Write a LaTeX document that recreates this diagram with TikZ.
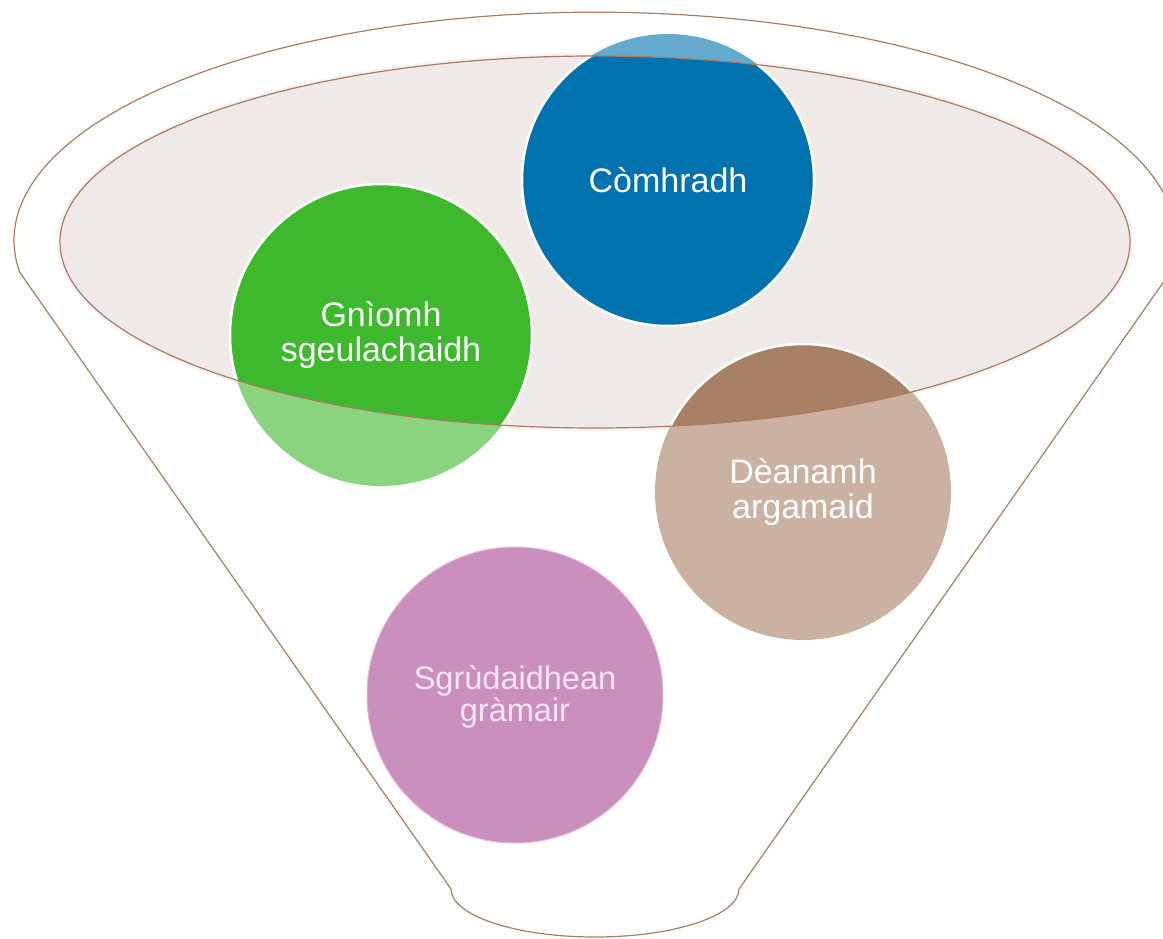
\documentclass[tikz,border=0pt]{standalone}
\usepackage{fontspec}
\setmainfont{Liberation Sans}
\definecolor{funnelline}{RGB}{170,125,98}
\definecolor{bowlfill}{RGB}{239,234,231}
\definecolor{bowlglow}{RGB}{246,243,241}
\definecolor{bluedark}{RGB}{0,115,174}
\definecolor{bluelight}{RGB}{100,170,206}
\definecolor{greendark}{RGB}{62,184,44}
\definecolor{greenlight}{RGB}{139,212,127}
\definecolor{browndark}{RGB}{168,128,102}
\definecolor{brownlight}{RGB}{203,177,161}
\definecolor{pinkfill}{RGB}{203,143,189}
\definecolor{pinkedge}{RGB}{225,185,215}
\definecolor{pinktext}{RGB}{248,228,242}
\begin{document}
\begin{tikzpicture}[x=1pt,y=-1pt,
  outline/.style={draw=funnelline, line width=1.2pt},
  darkdisc/.style={line width=2.5pt, draw=white},
  circtext/.style={circle, inner sep=0pt, minimum size=290pt, align=center, text=white,
    font=\fontsize{34}{35}\selectfont},
  pinktextstyle/.style={circtext, text=pinktext, font=\fontsize{32.5}{29}\selectfont}]
\useasboundingbox (0,0) rectangle (1163,939);
\begin{scope}
\clip (0,0) rectangle (1163,939);
% funnel outline
\coordinate (lc) at (20,272.7);
\coordinate (rc) at (1170,272.7);
\coordinate (bl) at (451,889);
\coordinate (br) at (739,889);
\draw[outline] (lc) -- (bl) arc[start angle=180,end angle=0,x radius=144,y radius=48]
  -- (rc) arc[start angle=8.2,end angle=-188.2,x radius=581,y radius=228] -- cycle;
% bowl
\coordinate (bowl) at (595,242);
\draw[bowlglow, line width=4pt] (bowl) ellipse[x radius=536,y radius=187];
\fill[bowlfill] (bowl) ellipse[x radius=535,y radius=186];
% circle centres
\coordinate (pb) at (668,180);
\coordinate (pg) at (381,335);
\coordinate (pr) at (803,492);
\coordinate (pp) at (515,695);
% light parts (outside bowl)
\fill[bluelight] (pb) circle[radius=146];
\fill[greenlight] (pg) circle[radius=151];
\fill[brownlight] (pr) circle[radius=148];
% dark parts (inside bowl)
\begin{scope}
\clip (bowl) ellipse[x radius=535,y radius=186];
\filldraw[darkdisc, fill=bluedark] (pb) circle[radius=146];
\filldraw[darkdisc, fill=greendark] (pg) circle[radius=151];
\filldraw[darkdisc, fill=browndark] (pr) circle[radius=148];
\end{scope}
\draw[outline] (bowl) ellipse[x radius=535,y radius=186];
% pink disc
\filldraw[fill=pinkfill, draw=pinkedge, line width=1pt] (pp) circle[radius=148];
\end{scope}
% labels
\node[circtext] (talk) at (pb) {Còmhradh};
\node[circtext] (story) at (pg) {Gnìomh\\sgeulachaidh};
\node[circtext] (argue) at (pr) {Dèanamh\\argamaid};
\node[pinktextstyle] (gram) at ([yshift=-2]pp) {Sgrùdaidhean\\gràmair};
\end{tikzpicture}
\end{document}
